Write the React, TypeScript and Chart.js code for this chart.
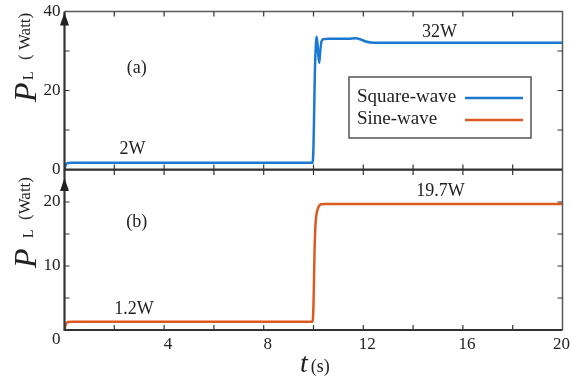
import React, { useEffect, useRef } from "react";
import { Chart, registerables } from "chart.js";
Chart.register(...registerables);

// ---- data ----
const timeSquare = [0, 0.05, 0.15, 0.3, 9.96, 10.0, 10.03, 10.06, 10.1, 10.13, 10.18, 10.23, 10.27, 10.32, 10.4, 10.6, 11.4, 11.7, 11.9, 12.1, 12.3, 12.6, 20];
const powerSquare = [0, 1.2, 1.65, 1.7, 1.7, 6, 16, 26, 32, 33.6, 30, 27, 30, 32.4, 33, 33.1, 33.1, 33.2, 32.9, 32.4, 32.15, 32.1, 32.1];
const timeSine = [0, 0.05, 0.15, 0.3, 9.96, 10.0, 10.04, 10.08, 10.13, 10.2, 10.3, 10.5, 20];
const powerSine = [0, 0.9, 1.25, 1.3, 1.3, 4, 12, 16.5, 18.3, 19.2, 19.65, 19.7, 19.7];

const seriesNames = ["Square-wave", "Sine-wave"];
const xTickValues = [0, 4, 8, 12, 16, 20];
const xTickLabels = ["0", "4", "8", "12", "16", "20"];
const yTickTopValues = [0, 20, 40];
const yTickTopLabels = ["0", "20", "40"];
const yTickBottomValues = [0, 10, 20];
const yTickBottomLabels = ["0", "10", "20"];

const annotTopText = ["(a)", "2W", "32W"];
const annotTopX = [2.9, 2.73, 15.06];
const annotTopY = [25.7, 5.2, 34.7];
const annotBottomText = ["(b)", "1.2W", "19.7W"];
const annotBottomX = [2.9, 2.79, 15.1];
const annotBottomY = [16.8, 3.3, 21.6];

// ---- style ----
const BLUE = "#1b79d0";
const ORANGE = "#dc5a22";
const SERIF = '"Liberation Serif", "Times New Roman", serif';
const AXIS = "#333333";
const FRAME = "#5a5a5a";

function drawPanel(chart: any, cfg: any) {
  const { ctx, chartArea, scales } = chart;
  const { left, right, top, bottom } = chartArea;
  const xs = scales.x;
  const ys = scales.y;
  ctx.save();
  // top / right border
  ctx.strokeStyle = FRAME;
  ctx.lineWidth = 1.5;
  ctx.beginPath();
  ctx.moveTo(left, top);
  ctx.lineTo(right, top);
  ctx.lineTo(right, bottom);
  ctx.stroke();
  // inward ticks
  ctx.lineWidth = 1.2;
  ctx.strokeStyle = AXIS;
  ctx.beginPath();
  for (let v = cfg.xStep; v < 20; v += cfg.xStep) {
    const px = xs.getPixelForValue(v);
    ctx.moveTo(px, top);
    ctx.lineTo(px, top + 5);
    ctx.moveTo(px, bottom);
    ctx.lineTo(px, bottom - 5);
  }
  for (let v = cfg.yStep; v < ys.max - 0.001; v += cfg.yStep) {
    const py = ys.getPixelForValue(v);
    ctx.moveTo(left, py);
    ctx.lineTo(left + 5, py);
    ctx.moveTo(right, py);
    ctx.lineTo(right - 5, py);
  }
  ctx.stroke();
  // left & bottom axis
  ctx.strokeStyle = AXIS;
  ctx.lineWidth = 2.2;
  ctx.beginPath();
  ctx.moveTo(left, top);
  ctx.lineTo(left, bottom);
  ctx.lineTo(right, bottom);
  ctx.stroke();
  // arrow
  ctx.fillStyle = "#222";
  ctx.beginPath();
  ctx.moveTo(left, top + cfg.arrowTip);
  ctx.lineTo(left - 4.5, top + cfg.arrowTip + 13);
  ctx.lineTo(left + 4.5, top + cfg.arrowTip + 13);
  ctx.closePath();
  ctx.fill();

  // y tick labels
  ctx.fillStyle = "#222";
  ctx.font = `17px ${SERIF}`;
  ctx.textAlign = "right";
  ctx.textBaseline = "middle";
  cfg.yVals.forEach((v: number, i: number) => {
    let py = ys.getPixelForValue(v);
    if (cfg.isBottom && v === 0) py += 10;
    ctx.fillText(cfg.yLabels[i], left - 4, py);
  });
  // x tick labels (bottom panel)
  if (cfg.isBottom) {
    ctx.textAlign = "center";
    xTickValues.forEach((v, i) => {
      if (v === 0) return;
      const px = xs.getPixelForValue(v) + (v === 20 ? -1 : 4);
      ctx.fillText(xTickLabels[i], px, bottom + 15);
    });
    // x title
    ctx.textAlign = "left";
    ctx.textBaseline = "alphabetic";
    ctx.font = `italic 28px ${SERIF}`;
    ctx.fillText("t", 300, 372);
    const tw = ctx.measureText("t").width;
    ctx.font = `18px ${SERIF}`;
    ctx.fillText("(s)", 300 + tw + 3, 372);
  }
  // annotations
  ctx.font = `18px ${SERIF}`;
  ctx.textAlign = "center";
  ctx.textBaseline = "middle";
  cfg.annText.forEach((t: string, i: number) => {
    ctx.fillText(t, xs.getPixelForValue(cfg.annX[i]), ys.getPixelForValue(cfg.annY[i]));
  });
  // y title (rotated): rotated x runs upward, rotated y = screen x
  ctx.save();
  ctx.translate(0, cfg.pStart);
  ctx.rotate(-Math.PI / 2);
  ctx.textAlign = "left";
  ctx.textBaseline = "alphabetic";
  ctx.font = `italic 32px ${SERIF}`;
  ctx.fillText("P", 0, 36);
  ctx.font = `14px ${SERIF}`;
  ctx.fillText("L", cfg.pStart - cfg.lStart, 33);
  ctx.font = `17px ${SERIF}`;
  ctx.fillText(cfg.wattText, cfg.pStart - cfg.wStart, 30);
  ctx.restore();

  // legend (top panel)
  if (!cfg.isBottom) {
    const bx = 349, by = 77, bw = 182, bh = 61;
    ctx.fillStyle = "#ffffff";
    ctx.fillRect(bx, by, bw, bh);
    ctx.strokeStyle = "#555";
    ctx.lineWidth = 1.5;
    ctx.strokeRect(bx, by, bw, bh);
    ctx.font = `19px ${SERIF}`;
    ctx.textAlign = "left";
    ctx.textBaseline = "alphabetic";
    const rows = [102, 124];
    const cols = [BLUE, ORANGE];
    seriesNames.forEach((n, i) => {
      ctx.fillStyle = "#222";
      ctx.fillText(n, 357, rows[i]);
      ctx.strokeStyle = cols[i];
      ctx.lineWidth = 2.5;
      ctx.beginPath();
      ctx.moveTo(465, rows[i] - 4);
      ctx.lineTo(523, rows[i] - 4);
      ctx.stroke();
    });
  }
  ctx.restore();
}

function makeChart(canvas: HTMLCanvasElement, cfg: any) {
  return new Chart(canvas, {
    type: "line",
    data: {
      datasets: [
        {
          label: cfg.name,
          data: cfg.t.map((t: number, i: number) => ({ x: t, y: cfg.v[i] })),
          borderColor: cfg.color,
          borderWidth: 2.5,
          pointRadius: 0,
          fill: false,
          cubicInterpolationMode: "monotone",
        },
      ],
    },
    options: {
      responsive: false,
      animation: false,
      events: [],
      layout: { padding: cfg.padding },
      scales: {
        x: { type: "linear", min: 0, max: 20, display: false },
        y: { type: "linear", min: 0, max: cfg.yMax, display: false },
      },
      plugins: { legend: { display: false }, tooltip: { enabled: false } },
    },
    plugins: [{ id: "panel" + cfg.name, afterDraw: (c: any) => drawPanel(c, cfg) }],
  } as any);
}

export default function App() {
  const topRef = useRef<HTMLCanvasElement>(null);
  const botRef = useRef<HTMLCanvasElement>(null);
  useEffect(() => {
    const c1 = makeChart(topRef.current!, {
      name: seriesNames[0], t: timeSquare, v: powerSquare, color: BLUE, yMax: 40,
      padding: { left: 64.5, right: 8.5, top: 11.5, bottom: 211.5 },
      xStep: 2, yStep: 10, arrowTip: 1, yVals: yTickTopValues, yLabels: yTickTopLabels,
      annText: annotTopText, annX: annotTopX, annY: annotTopY,
      pStart: 102, lStart: 80, wStart: 60, wattText: "( Watt)", isBottom: false,
    });
    const c2 = makeChart(botRef.current!, {
      name: seriesNames[1], t: timeSine, v: powerSine, color: ORANGE, yMax: 25,
      padding: { left: 64.5, right: 8.5, top: 170, bottom: 51 },
      xStep: 2, yStep: 5, arrowTip: 8, yVals: yTickBottomValues, yLabels: yTickBottomLabels,
      annText: annotBottomText, annX: annotBottomX, annY: annotBottomY,
      pStart: 268, lStart: 238, wStart: 220, wattText: "(Watt)", isBottom: true,
    });
    return () => { c1.destroy(); c2.destroy(); };
  }, []);
  const st: React.CSSProperties = { position: "absolute", left: 0, top: 0, width: 571, height: 381 };
  return (
    <div style={{ position: "absolute", left: 0, top: 0, width: 571, height: 381, background: "#fff" }}>
      <canvas ref={botRef} width={571} height={381} style={st} />
      <canvas ref={topRef} width={571} height={381} style={st} />
    </div>
  );
}
